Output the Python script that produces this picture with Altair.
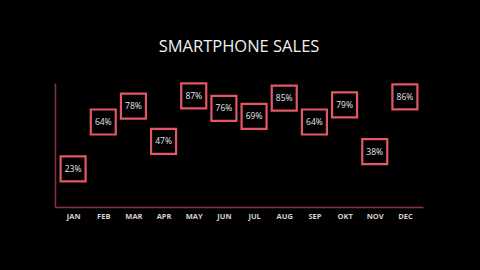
import altair as alt
import pandas as pd

months = ["JAN", "FEB", "MAR", "APR", "MAY", "JUN", "JUL", "AUG", "SEP", "OKT", "NOV", "DEC"]
sales = [23, 64, 78, 47, 87, 76, 69, 85, 64, 79, 38, 86]

df = pd.DataFrame({"month": months, "sales": sales})
df["label"] = df["sales"].astype(str) + "%"

x = alt.X("month:N", sort=months, scale=alt.Scale(type="point", padding=0.6),
          axis=alt.Axis(title=None, ticks=False, domainColor="#8a3442", domainWidth=1.5,
                        labelColor="#d0d0d0", labelFont="Open Sans", labelFontSize=7.5,
                        labelFontWeight="bold", labelPadding=5, labelAngle=0))
y = alt.Y("sales:Q", scale=alt.Scale(domain=[-10.5, 98.2], nice=False, zero=False),
          axis=alt.Axis(title=None, ticks=False, labels=False, grid=False,
                        domainColor="#8a3442", domainWidth=1.5))

base = alt.Chart(df)
boxes = base.mark_point(shape="square", filled=False, size=625, stroke="#e25866",
                        strokeWidth=2.2, opacity=1).encode(x=x, y=y)
labels = base.mark_text(font="Open Sans", fontSize=8.5, color="#e6e6e6").encode(
    x=x, y=y, text="label:N")

chart = (boxes + labels).properties(
    width=368, height=124,
    background="black",
    padding={"left": 55, "top": 83, "right": 57, "bottom": 63},
    autosize=alt.AutoSizeParams(type="none"),
    title=alt.Title("SMARTPHONE SALES", font="Open Sans", fontSize=16.5, fontWeight="normal",
                    color="#f0f0f0", anchor="middle", offset=23),
).configure_view(stroke=None).configure_axis(grid=False)

chart.save("out.html", embed_options={"renderer": "svg", "actions": False})
